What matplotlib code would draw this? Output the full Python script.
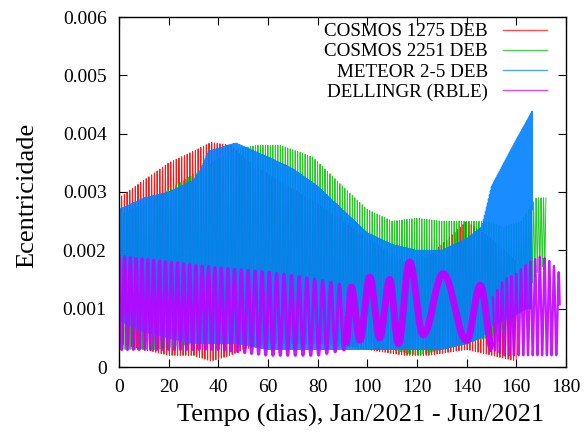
import numpy as np
import matplotlib
matplotlib.use("Agg")
import matplotlib.pyplot as plt

# ---------------- data ----------------
labels = ["COSMOS 1275 DEB", "COSMOS 2251 DEB", "METEOR 2-5 DEB", "DELLINGR (RBLE)"]
colors = ["#ff0000", "#00c000", "#0080ff", "#c000ff"]

# COSMOS 1275 DEB envelope
red_days = [0, 10, 20, 30, 37, 45, 50, 60, 80, 100, 115, 125, 140, 150, 160]
red_hi = [0.0029, 0.0032, 0.0035, 0.0037, 0.00385, 0.0038, 0.0036, 0.0033, 0.0028,
          0.0022, 0.0018, 0.0019, 0.0025, 0.0022, 0.0018]
red_lo = [0.0004, 0.0003, 0.0002, 0.0002, 0.0001, 0.0002, 0.0003, 0.0004, 0.0004,
          0.0003, 0.0002, 0.0002, 0.0003, 0.0002, 0.0001]
red_period = 1.1

# COSMOS 2251 DEB envelope
green_days = [0, 15, 30, 45, 55, 65, 78, 90, 100, 110, 120, 130, 140, 148, 155, 162, 168, 172]
green_hi = [0.0026, 0.0029, 0.0033, 0.0037, 0.0038, 0.0038, 0.0036, 0.0031, 0.0027, 0.0025,
            0.00255, 0.0025, 0.0025, 0.0025, 0.0024, 0.0025, 0.0029, 0.0029]
green_lo = [0.0003, 0.0003, 0.0004, 0.0004, 0.0004, 0.0004, 0.0004, 0.0004, 0.0003, 0.0003,
            0.0002, 0.0003, 0.0004, 0.0005, 0.0006, 0.0010, 0.0016, 0.0018]
green_period = 1.0

# METEOR 2-5 DEB envelope
blue_days = [0, 10, 20, 30, 33, 36, 47, 60, 70, 80, 90, 100, 110, 120, 130, 140, 146,
             150, 155, 160, 164, 166.5]
blue_hi = [0.0027, 0.0029, 0.0030, 0.0032, 0.0034, 0.0037, 0.00384, 0.0036, 0.0034, 0.0031,
           0.0027, 0.0023, 0.0021, 0.0020, 0.0020, 0.0022, 0.0024, 0.0031, 0.0035, 0.0039,
           0.0042, 0.0044]
blue_lo = [0.0008, 0.0006, 0.0005, 0.0004, 0.0004, 0.0004, 0.0004, 0.0003, 0.0003, 0.0003,
           0.0003, 0.0003, 0.0003, 0.0003, 0.0003, 0.0004, 0.0005, 0.0007, 0.0008, 0.0009,
           0.0010, 0.0010]
blue_period = 0.4

# DELLINGR (RBLE): fast part before the arcs
purple_a_days = [0, 20, 40, 60, 80, 91.5]
purple_a_hi = [0.0019, 0.0018, 0.0017, 0.00163, 0.0015, 0.0014]
purple_a_lo = [0.0003, 0.0003, 0.0003, 0.0002, 0.0002, 0.0003]
purple_a_period = [2.3, 2.4, 2.6, 2.9, 3.2, 3.6]
# slow arcs (extrema)
arc_days = [91.5, 93.5, 97, 101, 105, 109, 112.5, 117, 122.5, 130.5, 140, 145.5, 150.5]
arc_vals = [0.0004, 0.00137, 0.00046, 0.00154, 0.0005, 0.0015, 0.0004, 0.0018, 0.00055,
            0.0016, 0.00045, 0.0014, 0.0003]
# fast part after the arcs
purple_b_days = [150.5, 155, 160, 165, 170, 174, 177.5]
purple_b_hi = [0.0012, 0.0015, 0.0016, 0.0018, 0.0019, 0.0018, 0.0016]
purple_b_lo = [0.0003, 0.0002, 0.0002, 0.0002, 0.0002, 0.0002, 0.0002]
purple_b_period = [1.9, 1.9, 1.9, 1.9, 1.9, 1.9, 1.9]

x_ticks = [0, 20, 40, 60, 80, 100, 120, 140, 160, 180]
y_ticks = [0, 0.001, 0.002, 0.003, 0.004, 0.005, 0.006]
y_ticklabels = ["0", "0.001", "0.002", "0.003", "0.004", "0.005", "0.006"]

SPD = 20  # samples per day


def oscillate(days, hi, lo, period, spd=SPD):
    t = np.arange(days[0], days[-1], 1.0 / spd)
    h = np.interp(t, days, hi)
    l = np.interp(t, days, lo)
    if np.ndim(period) == 0:
        f = np.full_like(t, 1.0 / period)
    else:
        f = 1.0 / np.interp(t, days, period)
    ph = 2 * np.pi * np.cumsum(f) / spd
    y = l + (h - l) * (0.5 + 0.5 * np.cos(ph))
    return t, y


def arcs(days, vals, spd=SPD):
    ts, ys = [], []
    for i in range(len(days) - 1):
        t = np.arange(days[i], days[i + 1], 1.0 / spd)
        u = (t - days[i]) / (days[i + 1] - days[i])
        y = vals[i] + (vals[i + 1] - vals[i]) * (0.5 - 0.5 * np.cos(np.pi * u))
        ts.append(t)
        ys.append(y)
    return np.concatenate(ts), np.concatenate(ys)


plt.rcParams["font.family"] = ["Liberation Serif", "DejaVu Serif"]
fig = plt.figure(figsize=(5.84, 4.32), dpi=100)
ax = fig.add_axes([119 / 584, 65 / 432, (566 - 119) / 584, (367 - 17) / 432])

tr, yr = oscillate(red_days, red_hi, red_lo, red_period)
tg, yg = oscillate(green_days, green_hi, green_lo, green_period)
tb, yb = oscillate(blue_days, blue_hi, blue_lo, blue_period)
tpa, ypa = oscillate(purple_a_days, purple_a_hi, purple_a_lo, purple_a_period)
tarc, yarc = arcs(arc_days, arc_vals)
tpb, ypb = oscillate(purple_b_days, purple_b_hi, purple_b_lo, purple_b_period)

ax.plot(tr, yr, color=colors[0], lw=0.7, alpha=0.9, label=labels[0])
ax.plot(tg, yg, color=colors[1], lw=0.7, alpha=0.85, label=labels[1])
ax.plot(tb, yb, color=colors[2], lw=0.8, alpha=0.9, label=labels[2])
ax.plot(tpa, ypa, color=colors[3], lw=2.2, alpha=0.9, label=labels[3])
ax.plot(tarc, yarc, color=colors[3], lw=5, alpha=0.95, solid_capstyle="butt")
ax.plot(tpb, ypb, color=colors[3], lw=1.6, alpha=0.9)

ax.set_xlim(0, 180)
ax.set_ylim(0, 0.006)
ax.set_xticks(x_ticks)
ax.set_yticks(y_ticks)
ax.set_yticklabels(y_ticklabels)
ax.tick_params(direction="in", length=6, width=0.8, top=True, right=True,
               labelsize=14, pad=9)
for s in ax.spines.values():
    s.set_linewidth(1.0)

ax.set_xlabel("Tempo (dias), Jan/2021 - Jun/2021", fontsize=19)
ax.xaxis.set_label_coords((361 - 119) / 447, -0.106)
ax.set_ylabel("Ecentricidade", fontsize=19)
ax.yaxis.set_label_coords(-0.181, 0.49)

leg = ax.legend(loc="upper right", bbox_to_anchor=((547 - 119) / 447, (367 - 23) / 350),
                frameon=False, markerfirst=False, fontsize=13.7,
                handlelength=2.3, handletextpad=0.8, labelspacing=0.15,
                borderaxespad=0.0, borderpad=0.0)
for line in leg.get_lines():
    line.set_linewidth(1.0)
    line.set_alpha(0.7)

fig.savefig("out.png", dpi=100)
